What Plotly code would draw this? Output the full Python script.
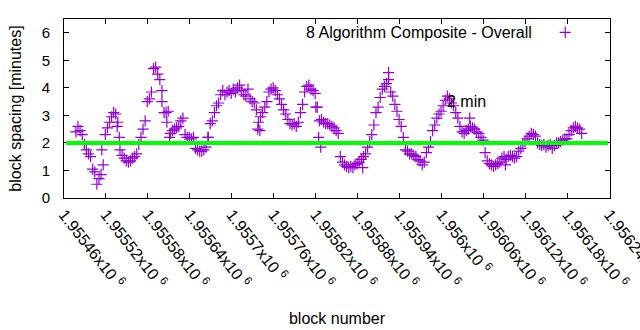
import plotly.graph_objects as go

# Block spacing (minutes) sampled every third block, starting at block 1955477
first_block = 1955477
block_step = 3
spacing_minutes = [
    2.4, 2.6, 2.45, 2.3, 1.95, 1.75, 1.6, 1.5, 1.05, 0.95,
    0.5, 0.7, 0.85, 1.2, 2.3, 2.55, 2.75, 2.95, 3.1, 3.05,
    2.75, 1.75, 1.55, 1.45, 1.35, 1.3, 1.35, 1.45, 1.5, 1.6,
    1.95, 2.2, 2.5, 2.8, 3.5, 3.6, 3.85, 4.7, 4.75, 4.5,
    4.3, 3.9, 3.1, 3.1, 3.15, 2.35, 2.45, 2.5, 2.55, 2.6,
    2.8, 2.9, 2.3, 2.2, 2.2, 2.15, 2.2, 1.8, 1.75, 1.7,
    1.7, 1.75, 1.85, 2.2, 2.7, 2.8, 3.1, 3.35, 3.45, 3.75,
    3.9, 3.75, 3.85, 3.9, 3.8, 3.95, 3.85, 4.0, 4.1, 3.9,
    3.75, 3.7, 3.95, 3.6, 3.5, 3.45, 3.2, 2.75, 2.95, 3.1,
    3.3, 3.5, 3.85, 3.95, 4.0, 3.9, 3.75, 3.6, 3.4, 3.2,
    3.05, 2.85, 2.7, 2.65, 2.7, 2.6, 2.75, 3.1, 3.4, 3.85,
    4.05, 4.1, 3.95, 3.9, 3.8, 3.3, 2.8, 2.85, 2.75, 2.7,
    2.7, 2.65, 2.6, 2.55, 2.45, 2.35, 1.5, 1.3, 1.2, 1.15,
    1.1, 1.15, 1.1, 1.2, 1.25, 1.3, 1.4, 1.5, 1.6, 1.85,
    2.05, 2.3, 2.65, 3.1, 3.3, 3.65, 3.95, 4.05, 4.15, 4.3,
    3.85, 3.7, 3.4, 3.15, 2.85, 2.6, 2.2, 1.75, 1.7, 1.6,
    1.6, 1.55, 1.5, 1.4, 1.35, 1.2, 1.3, 1.65, 1.85, 2.05,
    2.45, 2.65, 2.9, 3.05, 3.15, 3.35, 3.55, 3.7, 3.6, 3.45,
    3.35, 3.1, 2.9, 2.6, 2.4, 2.35, 2.45, 2.5, 2.6, 2.55,
    2.5, 2.4, 2.35, 2.2, 2.1, 1.65, 1.35, 1.25, 1.2, 1.15,
    1.2, 1.25, 1.3, 1.45, 1.5, 1.4, 1.5, 1.55, 1.5, 1.45,
    1.5, 1.7, 1.8, 1.95, 2.05, 2.15, 2.25, 2.35, 2.3, 2.25,
    2.0, 1.95, 1.9, 1.95, 1.85, 1.9, 1.95, 1.8, 1.9, 2.0,
    2.0, 2.05, 2.1, 2.15, 2.15, 2.3, 2.45, 2.55, 2.6, 2.55,
    2.5, 2.35,
]

# Individual blocks that sit away from the running trend
stray_blocks = [1955514, 1955536, 1955539, 1955600, 1955607, 1955611, 1955666,
                1955737, 1955740, 1955820, 1955824, 1955827, 1955887, 1955924,
                1956040, 1956091]
stray_minutes = [1.75, 2.6, 2.2, 3.5, 2.75, 2.2, 2.2,
                 2.5, 2.45, 3.3, 2.2, 1.85, 1.1, 4.55,
                 2.9, 1.2]

target_minutes = 2
series_name = "8 Algorithm Composite - Overall"
target_label = "2 min"
target_label_pos = (1956000, 3.5)

x_range = [1955460, 1956240.5]
tick_blocks = list(range(1955460, 1956241, 60))
tick_labels = [
    "1.95546x10 <sup>6</sup>", "1.95552x10 <sup>6</sup>", "1.95558x10 <sup>6</sup>",
    "1.95564x10 <sup>6</sup>", "1.9557x10 <sup>6</sup>", "1.95576x10 <sup>6</sup>",
    "1.95582x10 <sup>6</sup>", "1.95588x10 <sup>6</sup>", "1.95594x10 <sup>6</sup>",
    "1.956x10 <sup>6</sup>", "1.95606x10 <sup>6</sup>", "1.95612x10 <sup>6</sup>",
    "1.95618x10 <sup>6</sup>", "1.95624x10 <sup>6</sup>",
]

purple = "#9400D3"
font = "Liberation Sans, Arial, sans-serif"

blocks = [first_block + block_step * i for i in range(len(spacing_minutes))]
all_blocks = blocks + stray_blocks
all_minutes = spacing_minutes + stray_minutes

fig = go.Figure()
fig.add_trace(go.Scatter(
    x=all_blocks, y=all_minutes, mode="markers", name=series_name,
    marker=dict(symbol="cross-thin", size=8, color=purple,
                line=dict(color=purple, width=1.2)),
    showlegend=False, cliponaxis=True,
))

# Key sample drawn on a hidden unit axis pair
fig.add_trace(go.Scatter(
    x=[0.918], y=[0.925], mode="markers", xaxis="x2", yaxis="y2",
    marker=dict(symbol="cross-thin", size=8, color=purple,
                line=dict(color=purple, width=1.2)),
    showlegend=False, hoverinfo="skip",
))

fig.add_shape(type="line", xref="x domain", yref="y",
              x0=0.004, x1=0.996, y0=target_minutes, y1=target_minutes,
              line=dict(color="#00FF00", width=4), layer="above")

fig.add_annotation(x=target_label_pos[0], y=target_label_pos[1], text=target_label,
                   xref="x", yref="y", showarrow=False, xanchor="left",
                   yanchor="middle", xshift=3,
                   font=dict(family=font, size=16, color="#000000"))

fig.add_annotation(x=0.86, y=0.925, xref="paper", yref="paper", text=series_name,
                   showarrow=False, xanchor="right", yanchor="middle",
                   font=dict(family=font, size=16, color="#000000"))

axis_common = dict(showline=True, linecolor="black", linewidth=1, mirror="allticks",
                   ticks="inside", ticklen=5, tickcolor="black", showgrid=False,
                   zeroline=False, automargin=False)

fig.update_layout(
    width=640, height=330,
    margin=dict(l=64, r=30, t=19, b=132),
    paper_bgcolor="white", plot_bgcolor="white",
    font=dict(family=font, size=16, color="black"),
    xaxis=dict(range=x_range, tickvals=tick_blocks, ticktext=tick_labels,
               tickangle=52, ticklabeloverflow="allow",
               tickfont=dict(family=font, size=16, color="black"),
               title=dict(text="block number", standoff=22,
                          font=dict(family=font, size=16)),
               **axis_common),
    yaxis=dict(range=[0, 6.5], dtick=1, tick0=0,
               tickfont=dict(family=font, size=15, color="black"),
               title=dict(text="block spacing [minutes]", standoff=16,
                          font=dict(family=font, size=16)),
               ticklabelstandoff=10,
               **axis_common),
    xaxis2=dict(range=[0, 1], overlaying="x", visible=False),
    yaxis2=dict(range=[0, 1], overlaying="y", visible=False),
)

fig.write_html("out.html")
